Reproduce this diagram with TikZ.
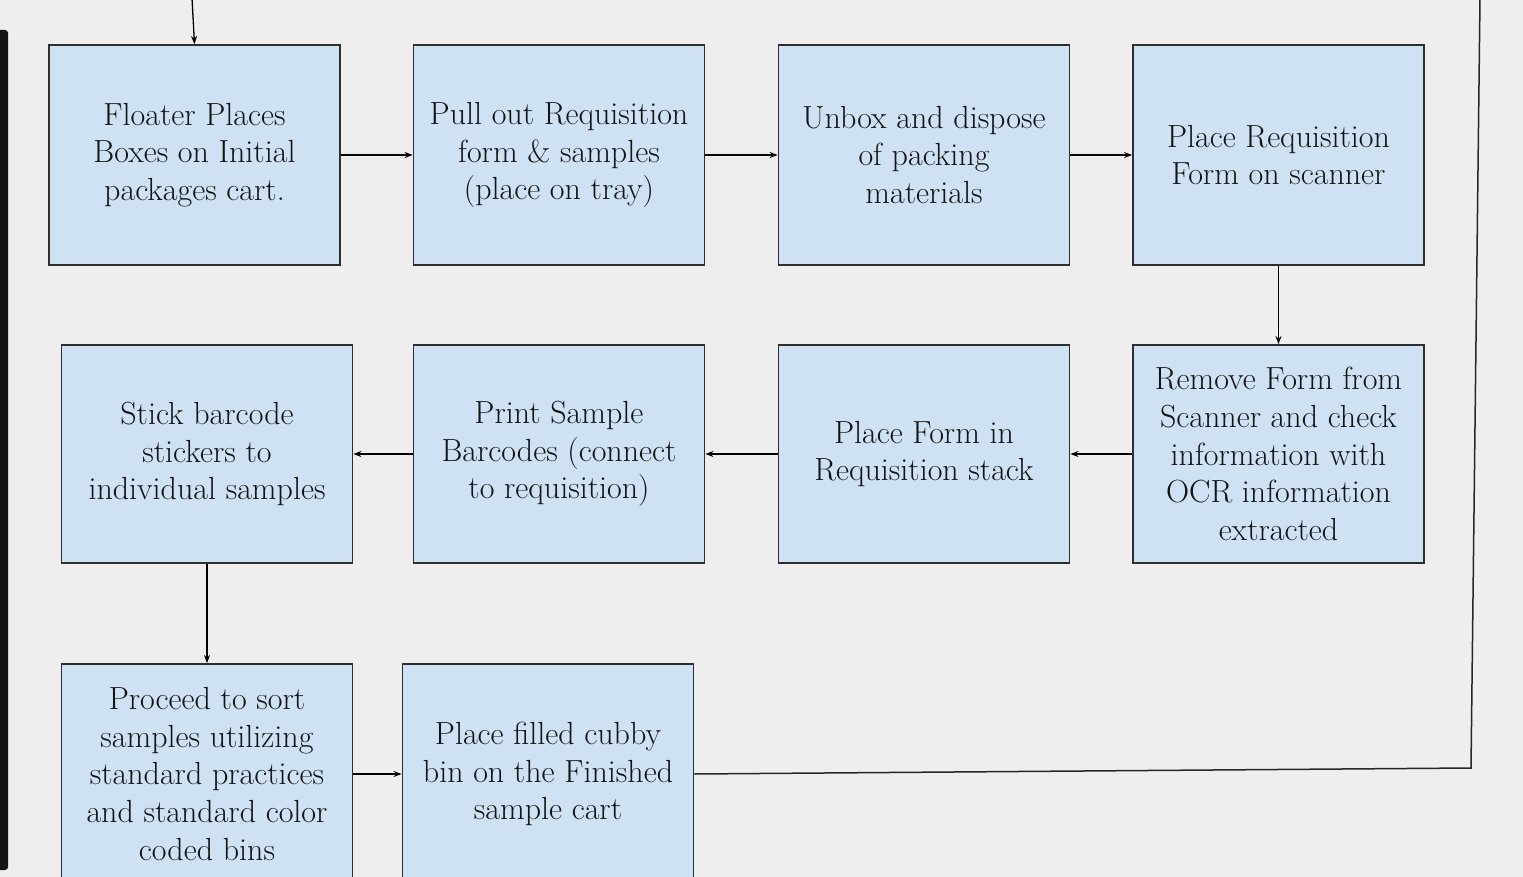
\documentclass[tikz,border=0pt]{standalone}
\usetikzlibrary{arrows.meta}
\definecolor{bg}{HTML}{EEEEEE}
\definecolor{boxfill}{HTML}{CFE2F3}
\definecolor{boxline}{HTML}{2E2E2E}
\definecolor{txt}{HTML}{141414}
\definecolor{bar}{HTML}{151515}
\newcommand{\topstrut}{\rule{0pt}{39pt}}
\tikzset{
  stepbox/.style={draw=boxline, line width=1.8pt, fill=boxfill, minimum width=291pt, minimum height=220pt,
    align=center, text=txt, inner sep=0pt, font=\fontsize{32}{37.7}\selectfont,
    execute at begin node=\topstrut},
  arr/.style={draw=black, line width=1.3pt, -{Stealth[length=8pt,width=6pt]}},
  plainline/.style={draw=black!85, line width=1.5pt}
}
\begin{document}
\begin{tikzpicture}[x=1pt,y=-1pt]
\useasboundingbox (0,0) rectangle (1523,877);
\clip (0,0) rectangle (1523,877);
\fill[bg] (0,0) rectangle (1523,877);
\fill[bar, rounded corners=3pt] (-6,30) rectangle (8,870);
% row 1
\node[stepbox] (b1) at (194.5,155) {Floater Places\\Boxes on Initial\\packages cart.};
\node[stepbox] (b2) at (559,155) {Pull out Requisition\\form \& samples\\(place on tray)};
\node[stepbox] (b3) at (924,155) {Unbox and dispose\\of packing\\materials};
\node[stepbox] (b4) at (1278.5,155) {Place Requisition\\Form on scanner};
% row 2
\node[stepbox, minimum height=218pt] (b5) at (1278.5,454) {Remove Form from\\Scanner and check\\information with\\OCR information\\extracted};
\node[stepbox, minimum height=218pt] (b6) at (924,454) {Place Form in\\Requisition stack};
\node[stepbox, minimum height=218pt] (b7) at (559,454) {Print Sample\\Barcodes (connect\\to requisition)};
\node[stepbox, minimum height=218pt] (b8) at (207,454) {Stick barcode\\stickers to\\individual samples};
% row 3
\node[stepbox] (b9) at (207,774) {Proceed to sort\\samples utilizing\\standard practices\\and standard color\\coded bins};
\node[stepbox] (b10) at (548,774) {Place filled cubby\\bin on the Finished\\sample cart};
% connectors
\coordinate (top) at (192,-2);
\coordinate (c1) at (1471,768);
\coordinate (c2) at (1480,-2);
\draw[arr] (top) -- (b1.north);
\draw[arr] (b1) -- (b2);
\draw[arr] (b2) -- (b3);
\draw[arr] (b3) -- (b4);
\draw[arr] (b4) -- (b5);
\draw[arr] (b5) -- (b6);
\draw[arr] (b6) -- (b7);
\draw[arr] (b7) -- (b8);
\draw[arr] (b8) -- (b9);
\draw[arr] (b9) -- (b10);
\draw[plainline] (b10.east) -- (c1) -- (c2);
\end{tikzpicture}
\end{document}
